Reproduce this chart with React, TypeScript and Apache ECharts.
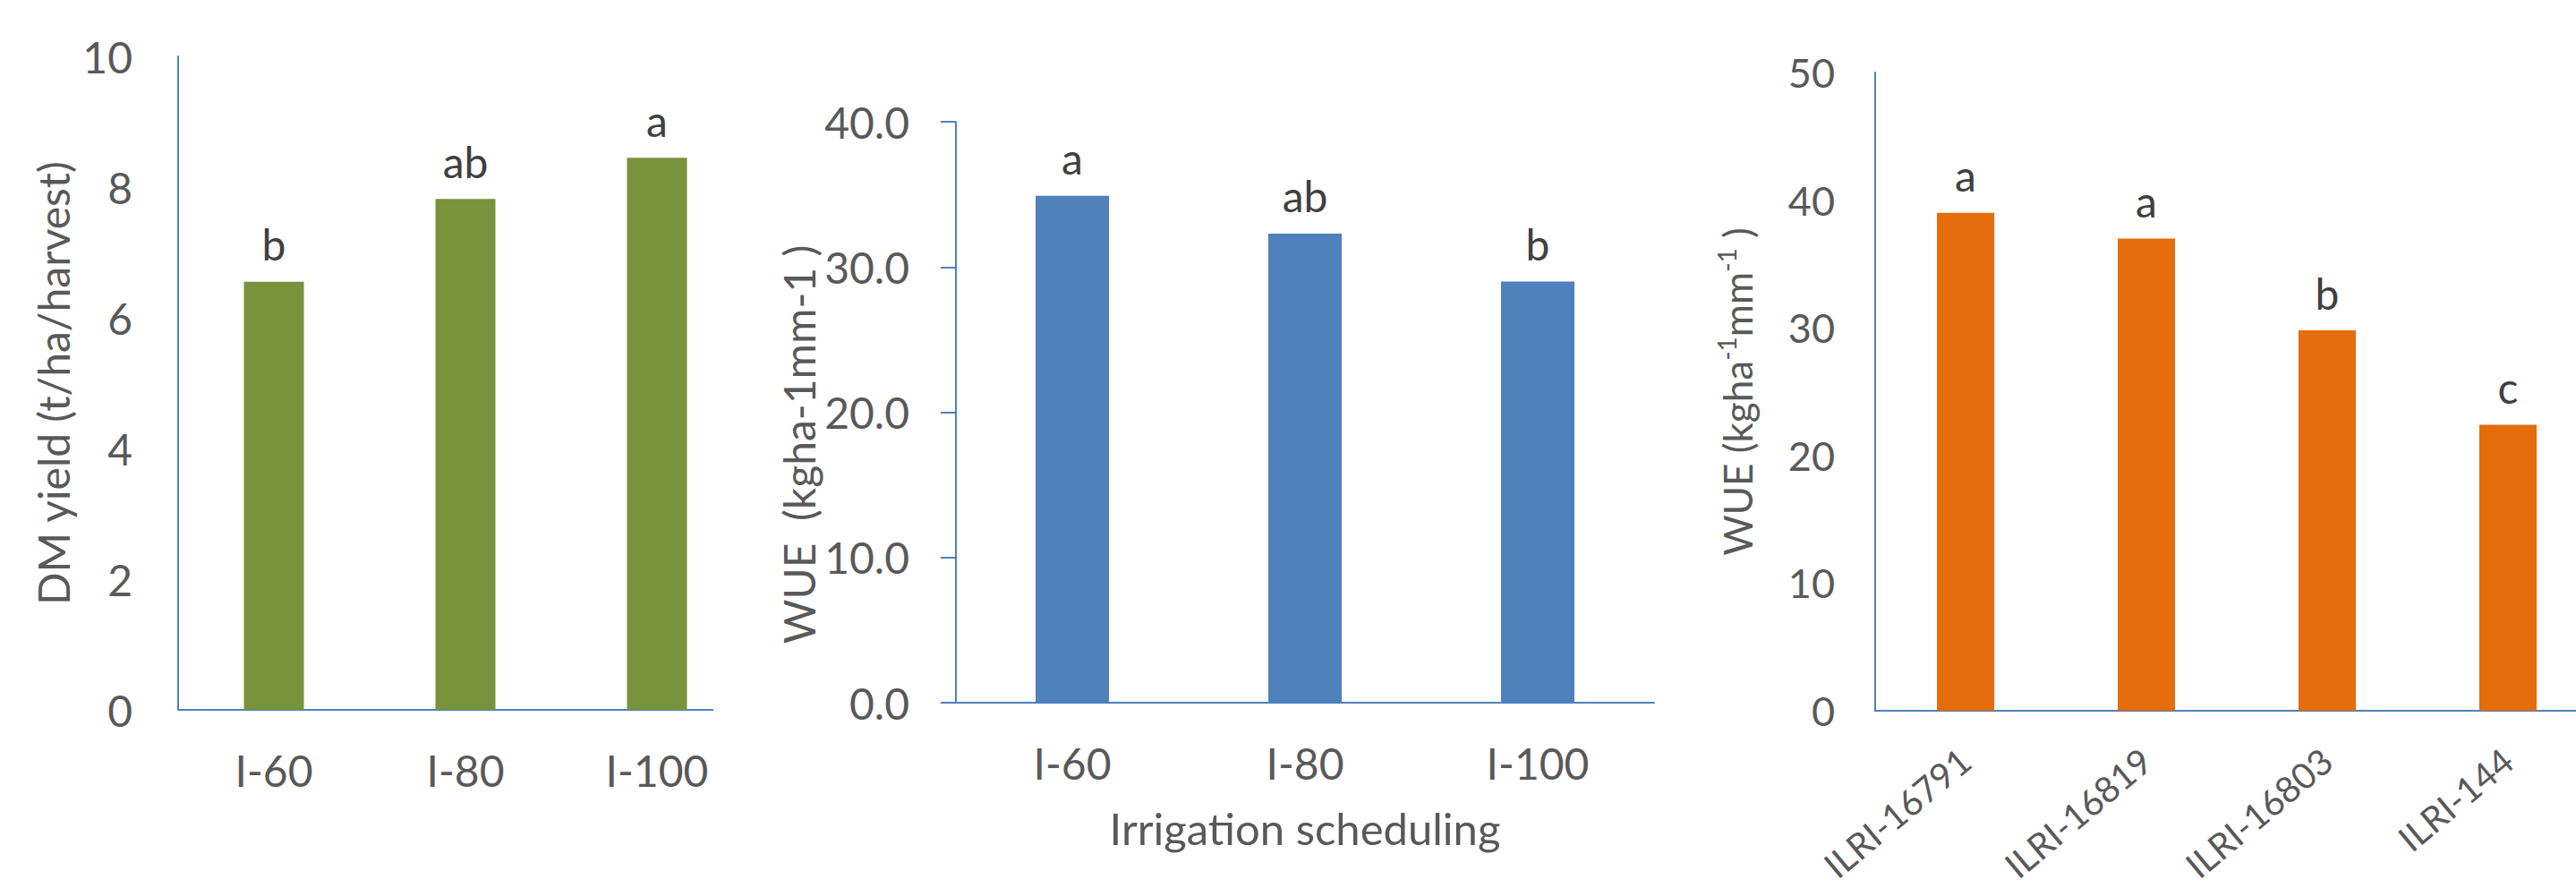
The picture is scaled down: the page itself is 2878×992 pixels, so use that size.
import React, { useEffect, useRef } from "react";
import * as echarts from "echarts";

const cat1 = ["I-60", "I-80", "I-100"];
const yield1 = [6.55, 7.82, 8.45];
const letters1 = ["b", "ab", "a"];

const cat2 = ["I-60", "I-80", "I-100"];
const wue2 = [34.9, 32.3, 29.0];
const letters2 = ["a", "ab", "b"];

const cat3 = ["ILRI-16791", "ILRI-16819", "ILRI-16803", "ILRI-144"];
const wue3 = [39.0, 37.0, 29.8, 22.4];
const letters3 = ["a", "a", "b", "c"];

const FONT = "Lato";
const TICK = "#595959";
const LETTER = "#404040";
const AXIS = "#4F81BD";

export default function App() {
  const ref = useRef<HTMLDivElement>(null);
  useEffect(() => {
    document.body.style.margin = "0";
    const chart = echarts.init(ref.current!, undefined, { renderer: "svg" });
    const axisLine = { show: true, lineStyle: { color: AXIS, width: 2 } };
    const lbl = (size: number) => ({ fontFamily: FONT, fontSize: size, color: TICK });
    const barLabel = (letters: string[]) => ({
      show: true,
      position: "top",
      distance: 18,
      fontFamily: FONT,
      fontSize: 48,
      color: LETTER,
      formatter: (p: any) => letters[p.dataIndex],
    });
    chart.setOption({
      animation: false,
      backgroundColor: "#ffffff",
      textStyle: { fontFamily: FONT },
      grid: [
        { left: 199, top: 63, width: 642, height: 730, outerBoundsMode: "none", containLabel: false },
        { left: 1068, top: 136, width: 780, height: 649, outerBoundsMode: "none", containLabel: false },
        { left: 2095, top: 81, width: 808, height: 713, outerBoundsMode: "none", containLabel: false },
      ],
      xAxis: [
        {
          gridIndex: 0,
          type: "category",
          data: cat1,
          axisLine: { show: false },
          axisTick: { show: false },
          axisLabel: { ...lbl(48), margin: 43 },
        },
        {
          gridIndex: 1,
          type: "category",
          data: cat2,
          axisLine,
          axisTick: { show: false },
          axisLabel: { ...lbl(48), margin: 43 },
          name: "Irrigation scheduling",
          nameLocation: "middle",
          nameGap: 115,
          nameTextStyle: { fontFamily: FONT, fontSize: 49, color: TICK },
        },
        {
          gridIndex: 2,
          type: "category",
          data: cat3,
          axisLine,
          axisTick: { show: false },
          axisLabel: { ...lbl(40), margin: 50, rotate: 40 },
        },
      ],
      yAxis: [
        {
          gridIndex: 0,
          type: "value",
          min: 0,
          max: 10,
          interval: 2,
          axisLine,
          axisTick: { show: false },
          splitLine: { show: false },
          axisLabel: { ...lbl(48), margin: 51 },
          name: "DM yield (t/ha/harvest)",
          nameLocation: "middle",
          nameRotate: 90,
          nameGap: 116,
          nameTextStyle: { fontFamily: FONT, fontSize: 48, color: TICK },
        },
        {
          gridIndex: 1,
          type: "value",
          min: 0,
          max: 40,
          interval: 10,
          axisLine,
          axisTick: { show: true, length: 17, lineStyle: { color: AXIS, width: 2 } },
          splitLine: { show: false },
          axisLabel: { ...lbl(48), margin: 52, formatter: (v: number) => v.toFixed(1) },
          name: "WUE  (kgha-1mm-1 )",
          nameLocation: "middle",
          nameRotate: 90,
          nameGap: 152,
          nameTextStyle: { fontFamily: FONT, fontSize: 48, color: TICK, padding: [0, 72, 0, 0] },
        },
        {
          gridIndex: 2,
          type: "value",
          min: 0,
          max: 50,
          interval: 10,
          axisLine,
          axisTick: { show: false },
          splitLine: { show: false },
          axisLabel: { ...lbl(45), margin: 45 },
          name: "{n|WUE (kgha}{s|-1}{n|mm}{s|-1}{n| )}",
          nameLocation: "middle",
          nameRotate: 90,
          nameGap: 132,
          nameTextStyle: {
            fontFamily: FONT,
            color: TICK,
            rich: {
              n: { fontFamily: FONT, fontSize: 44, color: TICK, lineHeight: 48, verticalAlign: "bottom" },
              s: { fontFamily: FONT, fontSize: 28, color: TICK, lineHeight: 48, verticalAlign: "top" },
            },
          },
        },
      ],
      graphic: [
        {
          type: "line",
          shape: { x1: 199, y1: 793, x2: 797, y2: 793 },
          style: { stroke: AXIS, lineWidth: 2 },
        },
      ],
      series: [
        {
          type: "bar",
          xAxisIndex: 0,
          yAxisIndex: 0,
          data: yield1,
          barWidth: 67,
          itemStyle: { color: "#77933C" },
          label: barLabel(letters1),
        },
        {
          type: "bar",
          xAxisIndex: 1,
          yAxisIndex: 1,
          data: wue2,
          barWidth: 82,
          itemStyle: { color: "#4F81BD" },
          label: barLabel(letters2),
        },
        {
          type: "bar",
          xAxisIndex: 2,
          yAxisIndex: 2,
          data: wue3,
          barWidth: 64,
          itemStyle: { color: "#E46C0A" },
          label: barLabel(letters3),
        },
      ],
    });
    return () => chart.dispose();
  }, []);
  return <div ref={ref} style={{ width: 2878, height: 992 }} />;
}
